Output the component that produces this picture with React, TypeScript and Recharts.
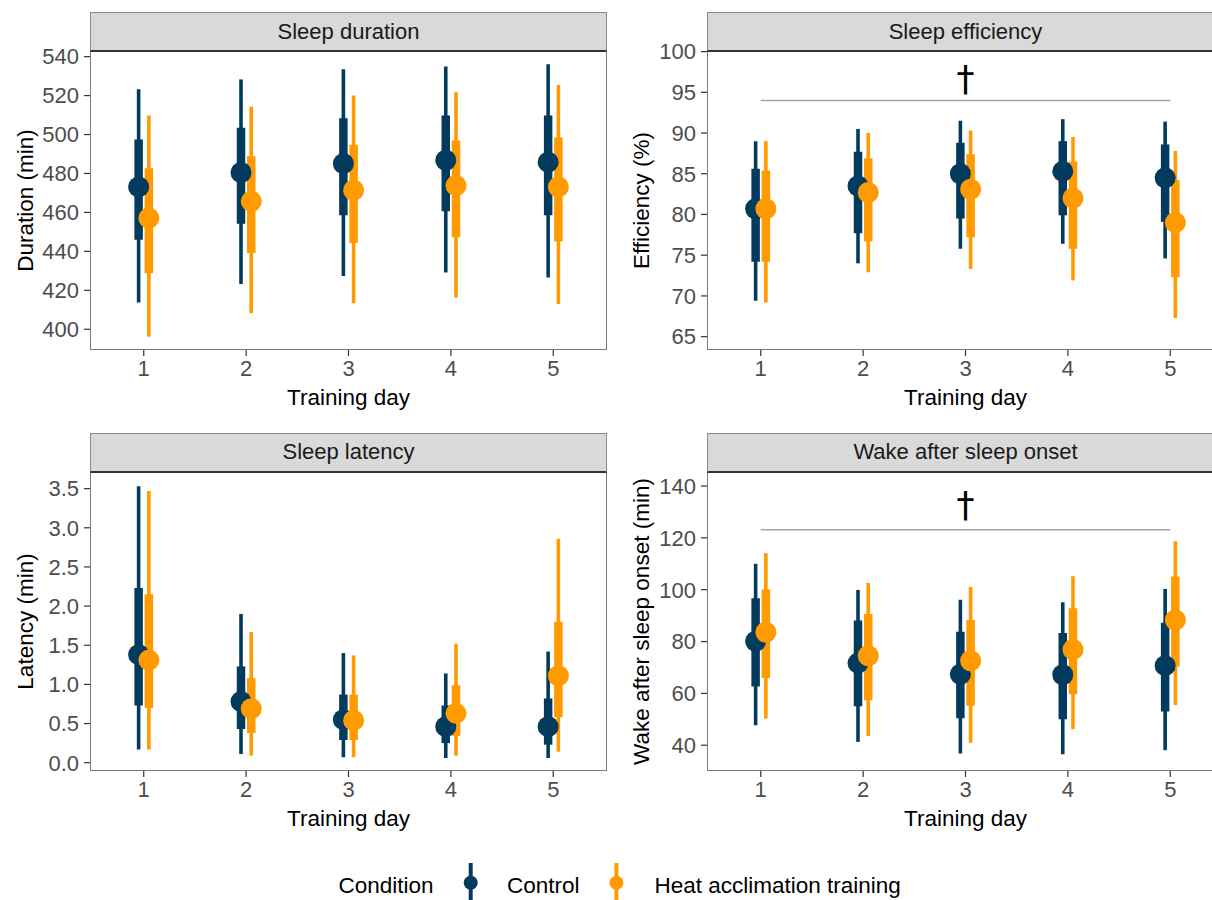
import React from 'react';
import { ComposedChart, Scatter, ErrorBar, XAxis, YAxis, ReferenceLine, ReferenceDot } from 'recharts';

const days = [1, 2, 3, 4, 5];
const conditions = ['Control', 'Heat acclimation training'];
const colors = ['#023B5E', '#FF9A00'];

// each day: [lower 95%, lower 66%, median, upper 66%, upper 95%]
const durationControl = [[413.7, 446.0, 473.1, 497.4, 523.2], [423.2, 454.2, 480.5, 503.5, 528.3], [427.4, 458.5, 485.1, 508.3, 533.5], [429.2, 460.6, 486.8, 509.8, 534.9], [426.6, 458.5, 485.8, 509.8, 536.1]];
const durationHeat = [[396.2, 428.8, 457.1, 482.7, 509.8], [408.2, 439.1, 465.7, 488.9, 514.3], [413.4, 444.3, 471.4, 494.7, 520.1], [416.3, 447.3, 473.8, 496.9, 521.8], [413.0, 445.1, 473.1, 498.5, 525.4]];
const efficiencyControl = [[69.4, 74.2, 80.7, 85.6, 89.0], [74.0, 77.7, 83.5, 87.7, 90.5], [75.8, 79.5, 85.0, 88.8, 91.5], [76.4, 79.9, 85.3, 89.0, 91.7], [74.6, 79.1, 84.5, 88.6, 91.4]];
const efficiencyHeat = [[69.2, 74.2, 80.7, 85.4, 89.0], [72.9, 76.7, 82.7, 86.9, 90.0], [73.3, 77.2, 83.1, 87.4, 90.3], [71.9, 75.8, 82.0, 86.5, 89.5], [67.3, 72.3, 79.0, 84.2, 87.8]];
const latencyControl = [[0.17, 0.73, 1.38, 2.23, 3.53], [0.11, 0.43, 0.78, 1.23, 1.90], [0.07, 0.29, 0.55, 0.87, 1.40], [0.06, 0.25, 0.46, 0.73, 1.14], [0.06, 0.23, 0.46, 0.82, 1.42]];
const latencyHeat = [[0.17, 0.70, 1.31, 2.15, 3.47], [0.09, 0.38, 0.69, 1.08, 1.67], [0.07, 0.29, 0.54, 0.87, 1.37], [0.09, 0.34, 0.63, 0.99, 1.52], [0.14, 0.58, 1.11, 1.80, 2.86]];
const wasoControl = [[47.7, 62.7, 80.1, 96.7, 110.0], [41.3, 55.0, 71.7, 88.1, 99.9], [36.8, 50.4, 67.4, 83.8, 96.1], [36.5, 50.0, 67.2, 83.3, 95.2], [38.1, 53.0, 70.7, 87.2, 100.3]];
const wasoHeat = [[50.3, 65.9, 83.6, 100.1, 114.1], [43.6, 57.4, 74.5, 90.6, 102.6], [41.0, 55.2, 72.6, 88.3, 101.0], [46.2, 59.7, 76.9, 92.8, 105.2], [55.5, 70.4, 88.3, 105.1, 118.7]];

const durationTicks = [400, 420, 440, 460, 480, 500, 520, 540];
const efficiencyTicks = [65, 70, 75, 80, 85, 90, 95, 100];
const latencyTicks = [0, 0.5, 1, 1.5, 2, 2.5, 3, 3.5];
const wasoTicks = [40, 60, 80, 100, 120, 140];

// significance bracket: [bracket line value, dagger baseline value]
const efficiencyBracket = [94.0, 95.2];
const wasoBracket = [123.1, 127.9];

const FONT = '"Liberation Sans", Arial, Helvetica, sans-serif';
const DODGE = 0.05;

type Row = { x: number; y: number; e95: number[]; e66: number[] };

function build(values: number[][], offset: number): Row[] {
  return values.map((v, i) => ({
    x: days[i] + offset,
    y: v[2],
    e95: [v[2] - v[0], v[4] - v[2]],
    e66: [v[2] - v[1], v[3] - v[2]],
  }));
}

type PanelProps = {
  chartLeft: number;
  plotLeft: number;
  stripTop: number;
  title: string;
  yTitle: string;
  yTitleX: number;
  ticks: number[];
  domain: [number, number];
  fmt: (v: number) => string;
  ctrl: number[][];
  heat: number[][];
  bracket?: number[];
};

const STRIP_H = 39;
const PLOT_W = 517;
const PLOT_H = 299;
const XAXIS_H = 62;

function Panel(p: PanelProps) {
  const yAxisW = p.plotLeft - p.chartLeft;
  const width = yAxisW + PLOT_W;
  const height = STRIP_H + PLOT_H + XAXIS_H;
  const dataCtrl = build(p.ctrl, -DODGE);
  const dataHeat = build(p.heat, DODGE);
  const noShape = () => <g />;
  const dot = (c: string) => (s: any) => <circle cx={s.cx} cy={s.cy} r={10.5} fill={c} />;
  const yLabel = (props: any) => {
    const vb = props.viewBox || {};
    const cy = (vb.y ?? STRIP_H) + (vb.height ?? PLOT_H) / 2;
    const cx = p.yTitleX - p.chartLeft;
    return (
      <text x={cx} y={cy} transform={`rotate(-90 ${cx} ${cy})`} textAnchor="middle" dominantBaseline="central" fontSize={22.5} fontFamily={FONT} fill="#000">
        {p.yTitle}
      </text>
    );
  };
  const xLabel = (props: any) => {
    const vb = props.viewBox || {};
    const cx = (vb.x ?? yAxisW) + (vb.width ?? PLOT_W) / 2;
    const y = (vb.y ?? STRIP_H + PLOT_H) + 55;
    return (
      <text x={cx} y={y} textAnchor="middle" fontSize={22.5} fontFamily={FONT} fill="#000">
        Training day
      </text>
    );
  };
  return (
    <>
      <div style={{ position: 'absolute', left: p.chartLeft, top: p.stripTop, width, height }}>
        <ComposedChart width={width} height={height} margin={{ top: STRIP_H, right: 0, bottom: 0, left: 0 }}>
          <XAxis
            type="number"
            dataKey="x"
            domain={[0.475, 5.525]}
            ticks={days}
            allowDataOverflow
            height={XAXIS_H}
            axisLine={false}
            tickLine={{ stroke: '#333333', strokeWidth: 1.2 }}
            tickSize={6}
            tickMargin={4}
            tick={{ fill: '#4D4D4D', fontSize: 22, fontFamily: FONT }}
            label={xLabel}
          />
          <YAxis
            type="number"
            dataKey="y"
            domain={p.domain}
            ticks={p.ticks}
            allowDataOverflow
            width={yAxisW}
            axisLine={false}
            tickLine={{ stroke: '#333333', strokeWidth: 1.2 }}
            tickSize={6}
            tickMargin={5}
            tickFormatter={p.fmt}
            tick={{ fill: '#4D4D4D', fontSize: 22, fontFamily: FONT }}
            label={yLabel}
          />
          {p.bracket && (
            <ReferenceLine
              segment={[{ x: 1, y: p.bracket[0] }, { x: 5, y: p.bracket[0] }]}
              stroke="#A3A3A3"
              strokeWidth={1.6}
            />
          )}
          {p.bracket && (
            <ReferenceDot
              x={3}
              y={p.bracket[1]}
              r={0}
              shape={(s: any) => (
                <text x={s.cx} y={s.cy} textAnchor="middle" fontSize={36} fontFamily='"DejaVu Sans", sans-serif' fill="#000">
                  †
                </text>
              )}
            />
          )}
          <Scatter name={conditions[0]} data={dataCtrl} shape={noShape} isAnimationActive={false}>
            <ErrorBar dataKey="e95" direction="y" width={0} strokeWidth={3.6} stroke={colors[0]} isAnimationActive={false} />
            <ErrorBar dataKey="e66" direction="y" width={0} strokeWidth={8.5} stroke={colors[0]} isAnimationActive={false} />
          </Scatter>
          <Scatter name={conditions[1]} data={dataHeat} shape={noShape} isAnimationActive={false}>
            <ErrorBar dataKey="e95" direction="y" width={0} strokeWidth={3.6} stroke={colors[1]} isAnimationActive={false} />
            <ErrorBar dataKey="e66" direction="y" width={0} strokeWidth={8.5} stroke={colors[1]} isAnimationActive={false} />
          </Scatter>
          <Scatter data={dataCtrl} shape={dot(colors[0])} isAnimationActive={false} />
          <Scatter data={dataHeat} shape={dot(colors[1])} isAnimationActive={false} />
        </ComposedChart>
      </div>
      <div
        style={{
          position: 'absolute',
          left: p.plotLeft,
          top: p.stripTop + STRIP_H,
          width: PLOT_W,
          height: PLOT_H,
          border: '1.3px solid #7A7A7A',
          boxSizing: 'border-box',
          pointerEvents: 'none',
        }}
      />
      <div
        style={{
          position: 'absolute',
          left: p.plotLeft,
          top: p.stripTop,
          width: PLOT_W,
          height: STRIP_H + 1,
          background: '#D9D9D9',
          border: '1.3px solid #8A8A8A',
          borderBottom: '2px solid #333333',
          boxSizing: 'border-box',
          display: 'flex',
          alignItems: 'center',
          justifyContent: 'center',
          fontFamily: FONT,
          fontSize: 22,
          color: '#1A1A1A',
        }}
      >
        {p.title}
      </div>
    </>
  );
}

function Legend() {
  const items = [
    { x: 470.7, label: conditions[0], tx: 507, c: colors[0] },
    { x: 616.4, label: conditions[1], tx: 654.5, c: colors[1] },
  ];
  return (
    <svg style={{ position: 'absolute', left: 0, top: 840 }} width={1212} height={60}>
      <text x={338.5} y={53} fontSize={22.5} fontFamily={FONT} fill="#000">
        Condition
      </text>
      {items.map((it) => (
        <g key={it.label}>
          <line x1={it.x} x2={it.x} y1={23} y2={62} stroke={it.c} strokeWidth={4} />
          <circle cx={it.x} cy={42.7} r={7} fill={it.c} />
          <text x={it.tx} y={53} fontSize={22.5} fontFamily={FONT} fill="#000">
            {it.label}
          </text>
        </g>
      ))}
    </svg>
  );
}

const fmtInt = (v: number) => String(v);
const fmt1 = (v: number) => v.toFixed(1);

export default function App() {
  return (
    <div style={{ position: 'absolute', left: 0, top: 0, width: 1212, height: 900, overflow: 'hidden', background: '#fff' }}>
      <Panel chartLeft={0} plotLeft={90} stripTop={12} title="Sleep duration" yTitle="Duration (min)" yTitleX={25}
        ticks={durationTicks} domain={[389.35, 542.9]} fmt={fmtInt} ctrl={durationControl} heat={durationHeat} />
      <Panel chartLeft={612} plotLeft={707} stripTop={12} title="Sleep efficiency" yTitle="Efficiency (%)" yTitleX={641}
        ticks={efficiencyTicks} domain={[63.36, 100.07]} fmt={fmtInt} ctrl={efficiencyControl} heat={efficiencyHeat} bracket={efficiencyBracket} />
      <Panel chartLeft={0} plotLeft={90} stripTop={432.5} title="Sleep latency" yTitle="Latency (min)" yTitleX={25}
        ticks={latencyTicks} domain={[-0.106, 3.7125]} fmt={fmt1} ctrl={latencyControl} heat={latencyHeat} />
      <Panel chartLeft={612} plotLeft={707} stripTop={432.5} title="Wake after sleep onset" yTitle="Wake after sleep onset (min)" yTitleX={641}
        ticks={wasoTicks} domain={[30.06, 145.4]} fmt={fmtInt} ctrl={wasoControl} heat={wasoHeat} bracket={wasoBracket} />
      <Legend />
    </div>
  );
}
